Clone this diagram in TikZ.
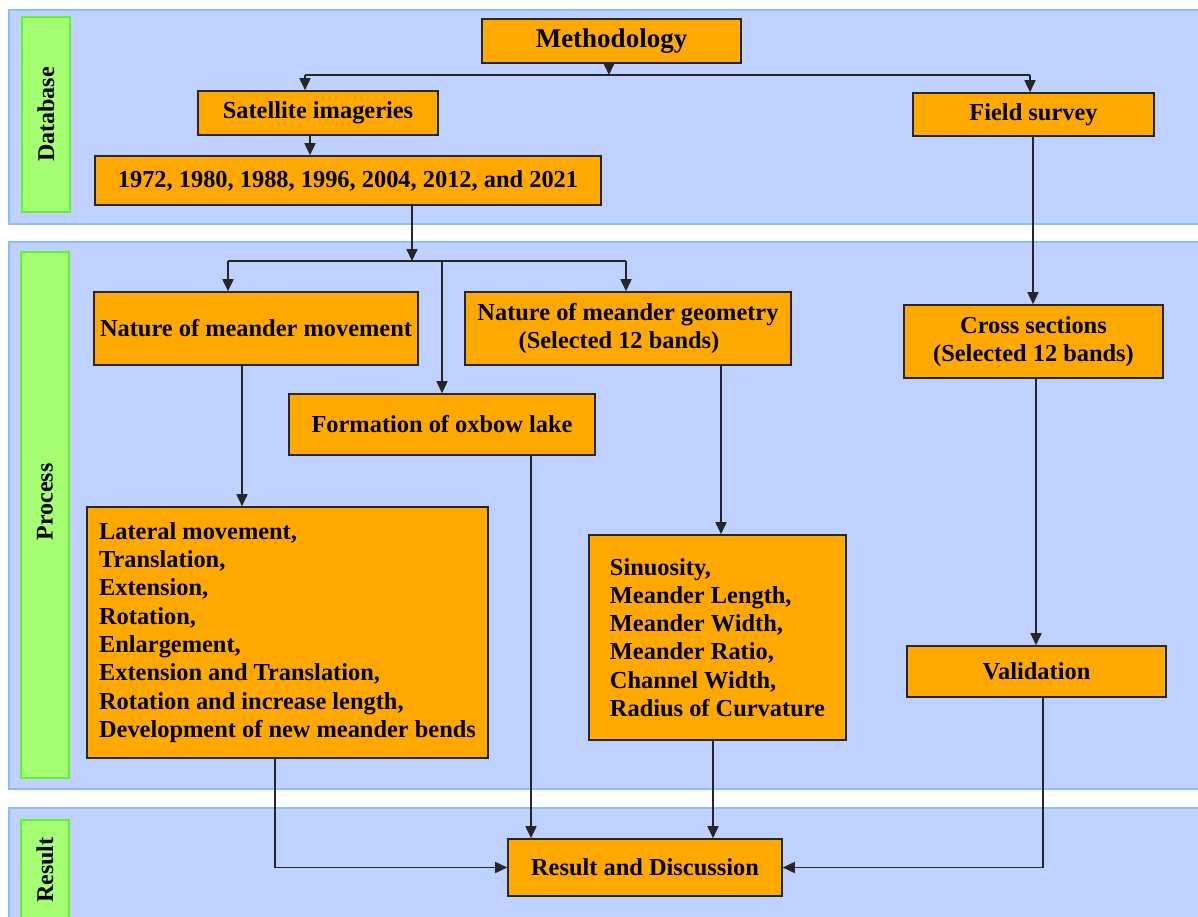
\documentclass[tikz,border=0pt]{standalone}
\usepackage{fontspec}
\setmainfont{Liberation Serif}
\usepackage{graphicx}
\usetikzlibrary{arrows.meta}
\definecolor{bandfill}{HTML}{BFD1FF}
\definecolor{bandline}{HTML}{8DBBFF}
\definecolor{labfill}{HTML}{A6FF73}
\definecolor{labline}{HTML}{66F033}
\definecolor{boxfill}{HTML}{FFA800}
\definecolor{boxline}{HTML}{262626}
\begin{document}
\begin{tikzpicture}[x=1pt,y=-1pt,
  band/.style={draw=bandline, line width=2pt, fill=bandfill},
  lab/.style={draw=labline, line width=1.5pt, fill=labfill, inner sep=0pt,
    font=\bfseries\fontsize{24}{28}\selectfont},
  box/.style={draw=boxline, line width=1.6pt, fill=boxfill, inner sep=0pt,
    font=\bfseries\fontsize{24.4}{28.3}\selectfont, align=center},
  conn/.style={line width=1.7pt, draw=boxline},
  arr/.style={conn, -{Triangle[length=12pt,width=11pt]}}]
\useasboundingbox (0,0) rectangle (1198,917);
% bands
\path[band] (9,10) rectangle (1210,224);
\path[band] (9,242) rectangle (1210,789);
\path[band] (9,808) rectangle (1210,930);
% side labels
\node[lab, minimum width=48, minimum height=195] (dbl) at (46,114.5) {\rotatebox{90}{Database}};
\node[lab, minimum width=48, minimum height=526] (prl) at (45,515) {\rotatebox{90}{\hspace*{26pt}Process}};
\node[lab, minimum width=48, minimum height=100] (rsl) at (45,870) {\rotatebox{90}{Result}};
% boxes
\node[box, minimum width=259, minimum height=44, font=\bfseries\fontsize{27}{30}\selectfont] (meth) at (611.5,41) {Methodology};
\node[box, minimum width=240, minimum height=44] (sat) at (318,113) {Satellite imageries};
\node[box, minimum width=506, minimum height=49] (years) at (348,180.5) {1972, 1980, 1988, 1996, 2004, 2012, and 2021};
\node[box, minimum width=241, minimum height=43] (field) at (1033.5,114.5) {Field survey};
\node[box, minimum width=324, minimum height=73] (nmm) at (256,328.5) {Nature of meander movement};
\node[box, minimum width=326, minimum height=73] (nmg) at (628,328.5) {Nature of meander geometry\\(Selected 12 bands)\hspace*{18pt}};
\node[box, minimum width=306, minimum height=61] (oxbow) at (442,424.5) {Formation of oxbow lake};
\node[box, minimum width=259, minimum height=73] (cross) at (1033.5,341.5) {Cross sections\\(Selected 12 bands)};
\node[box, align=left, minimum width=401, minimum height=251] (lat) at (287.5,632.5) {Lateral movement,\\Translation,\\Extension,\\Rotation,\\Enlargement,\\Extension and Translation,\\Rotation and increase length,\\Development of new meander bends};
\node[box, align=left, minimum width=257, minimum height=205] (sinu) at (717.5,637.5) {Sinuosity,\\Meander Length,\\Meander Width,\\Meander Ratio,\\Channel Width,\\Radius of Curvature};
\node[box, minimum width=259, minimum height=51] (valid) at (1036.5,671.5) {Validation};
\node[box, minimum width=274, minimum height=57] (res) at (645,867.5) {Result and Discussion};
% top distribution
\coordinate (mj) at (609,75);
\coordinate (hL) at (305,75);
\coordinate (hR) at (1030,75);
\draw[arr] (meth.south -| mj) -- (mj);
\draw[conn] (hL) -- (hR);
\draw[arr] (hL) -- (hL |- sat.north);
\draw[arr] (hR) -- (hR |- field.north);
\coordinate (sx) at (310,0);
\draw[arr] (sat.south -| sx) -- (sx |- years.north);
% process distribution
\coordinate (yj) at (412,261);
\coordinate (bL) at (228,261);
\coordinate (bM) at (442,261);
\coordinate (bR) at (626,261);
\draw[arr] (years.south -| yj) -- (yj);
\draw[conn] (bL) -- (bR);
\draw[arr] (bL) -- (bL |- nmm.north);
\draw[arr] (bM) -- (bM |- oxbow.north);
\draw[arr] (bR) -- (bR |- nmg.north);
% vertical flows
\coordinate (x1) at (242,0);
\draw[arr] (nmm.south -| x1) -- (x1 |- lat.north);
\coordinate (x2) at (721,0);
\draw[arr] (nmg.south -| x2) -- (x2 |- sinu.north);
\coordinate (x3) at (1033,0);
\draw[arr] (field.south -| x3) -- (x3 |- cross.north);
\coordinate (x4) at (1036,0);
\draw[arr] (cross.south -| x4) -- (x4 |- valid.north);
% to result
\coordinate (x5) at (275,0);
\draw[arr] (lat.south -| x5) |- (res.west);
\coordinate (x6) at (531,0);
\draw[arr] (oxbow.south -| x6) -- (x6 |- res.north);
\coordinate (x7) at (713,0);
\draw[arr] (sinu.south -| x7) -- (x7 |- res.north);
\coordinate (x8) at (1043,0);
\draw[arr] (valid.south -| x8) |- (res.east);
\end{tikzpicture}
\end{document}
